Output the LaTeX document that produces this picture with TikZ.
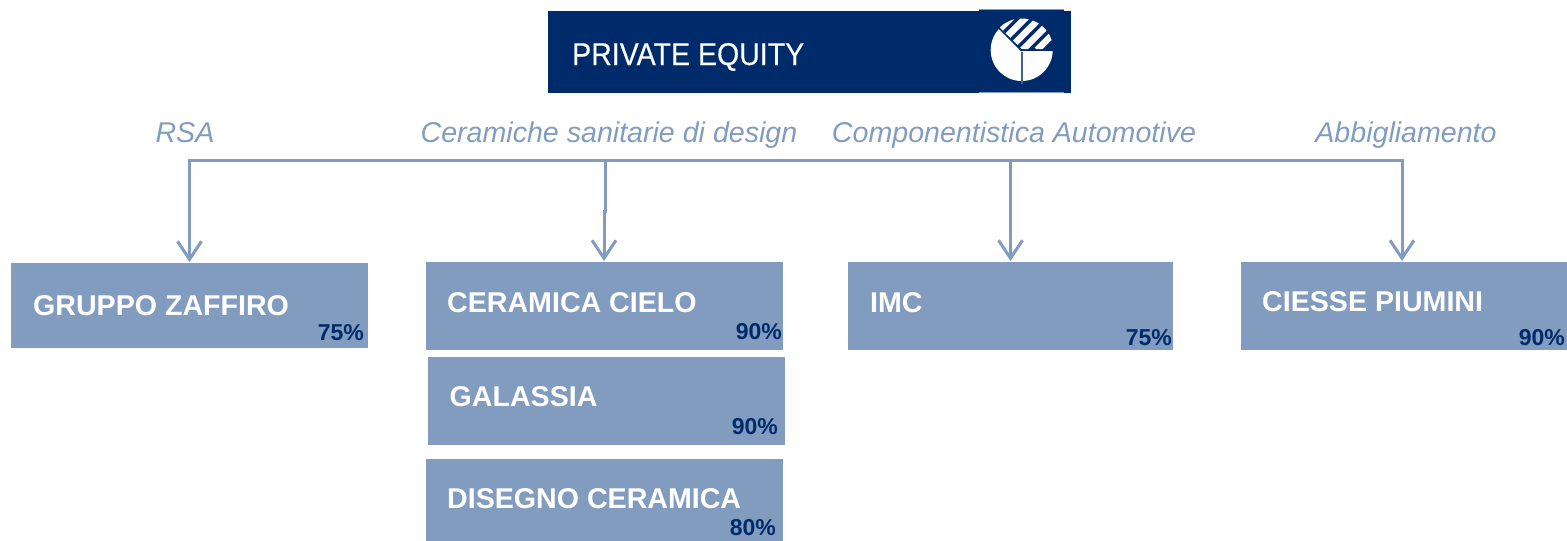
\documentclass[tikz,border=0pt]{standalone}
\usepackage{fontspec}
\setmainfont{Liberation Sans}
\newfontfamily\headfont[FakeBold=0.35]{Liberation Sans}
\usetikzlibrary{arrows.meta}
\definecolor{navy}{HTML}{002B6B}
\definecolor{steel}{HTML}{829CC0}
\tikzset{
  x=1pt,y=-1pt,
  headbox/.style={fill=navy,draw=none,minimum width=523pt,minimum height=82pt,inner sep=0pt},
  cobox/.style={fill=steel,draw=none,inner sep=0pt},
  coname/.style={anchor=base west,text=white,font=\fontsize{28.6}{28.6}\selectfont\bfseries,inner sep=0pt},
  pct/.style={anchor=base east,text=navy,font=\fontsize{23}{23}\selectfont\bfseries,inner sep=0pt},
  sector/.style={anchor=base,text=steel,font=\fontsize{28.6}{28.6}\selectfont\itshape,inner sep=0pt},
  link/.style={draw=steel,line width=3pt},
  drop/.style={link,-{Straight Barb[length=18pt,width=24pt,line width=3pt]},shorten >=1pt},
}
\newcommand{\cobx}[5]{\node[cobox,minimum width=#4pt-#2pt,minimum height=#5pt-#3pt,anchor=north west] (#1) at (#2,#3) {};}
\begin{document}
\begin{tikzpicture}
\useasboundingbox (0,0) rectangle (1567,541);
\node[headbox,anchor=north west] (head) at (548,11) {};
\node[anchor=base west,text=white,font=\headfont\fontsize{31.5}{31.5}\selectfont,inner sep=0pt,xscale=0.906] (headtxt) at (572,65) {PRIVATE EQUITY};
\fill[navy] (979,10) rectangle (1064,11);
\draw[steel,line width=0.8pt] (979,9.6) -- (1064,9.6) (979,92.4) -- (1064,92.4);
% logo
\fill[white] (1021.7,50) circle (31);
\begin{scope}
  \clip (1021.7,50) circle (31.5);
  \fill[navy] (1021.7,50.5) -- (996,24) -- (1000,10) -- (1060,10) -- (1060,50.5) -- cycle;
  \clip (1021.7,49) -- (1000,28) -- (1000,10) -- (1060,10) -- (1060,49) -- cycle;
  \foreach \d in {-21,-6.5,8,22.5,37}{
    \draw[white,line width=6.6pt] (1000+\d,50) -- (1040+\d,10);
  }
\end{scope}
\draw[navy!75!white,line width=2pt] (1021.7,52) -- (1021.7,84);
\draw[navy,line width=1.4pt] (1021.7,51) -- (996,25);
\draw[navy,line width=1.4pt] (1021,50.5) -- (1056,50.5);
% boxes
\cobx{zaffiro}{11}{263}{368}{348}
\cobx{cielo}{426}{262}{783}{350}
\cobx{galassia}{428}{357}{785}{445}
\cobx{disegno}{426}{459}{783}{541}
\cobx{imc}{848}{262}{1173}{350}
\cobx{ciesse}{1241}{262}{1567}{350}
\node[coname] (n1) at (33,315) {GRUPPO ZAFFIRO};
\node[coname] (n2) at (447,312) {CERAMICA CIELO};
\node[coname] (n3) at (449.5,406) {GALASSIA};
\node[coname] (n4) at (447,508) {DISEGNO CERAMICA};
\node[coname] (n5) at (870,312) {IMC};
\node[coname] (n6) at (1262,311) {CIESSE PIUMINI};
\node[pct] (p1) at (364,340) {75\%};
\node[pct] (p2) at (782,339) {90\%};
\node[pct] (p3) at (778,434) {90\%};
\node[pct] (p4) at (776,535) {80\%};
\node[pct] (p5) at (1172,345) {75\%};
\node[pct] (p6) at (1565,345) {90\%};
% sector labels
\node[sector] (s1) at (185,142) {RSA};
\node[sector] (s2) at (609,142) {Ceramiche sanitarie di design};
\node[sector] (s3) at (1014,142) {Componentistica Automotive};
\node[sector] (s4) at (1406,142) {Abbigliamento};
% connectors
\coordinate (b1) at (189.5,160.5);
\coordinate (b2) at (605.5,160.5);
\coordinate (b3) at (1010.5,160.5);
\coordinate (b4) at (1402,160.5);
\draw[link,line cap=rect] (b1) -- (b4);
\draw[drop] (b1) -- (b1 |- zaffiro.north);
\draw[drop] (b2) -- (605.5,211) -- (604,211) -- (604,262);
\draw[drop] (b3) -- (b3 |- imc.north);
\draw[drop] (b4) -- (b4 |- ciesse.north);
\end{tikzpicture}
\end{document}
